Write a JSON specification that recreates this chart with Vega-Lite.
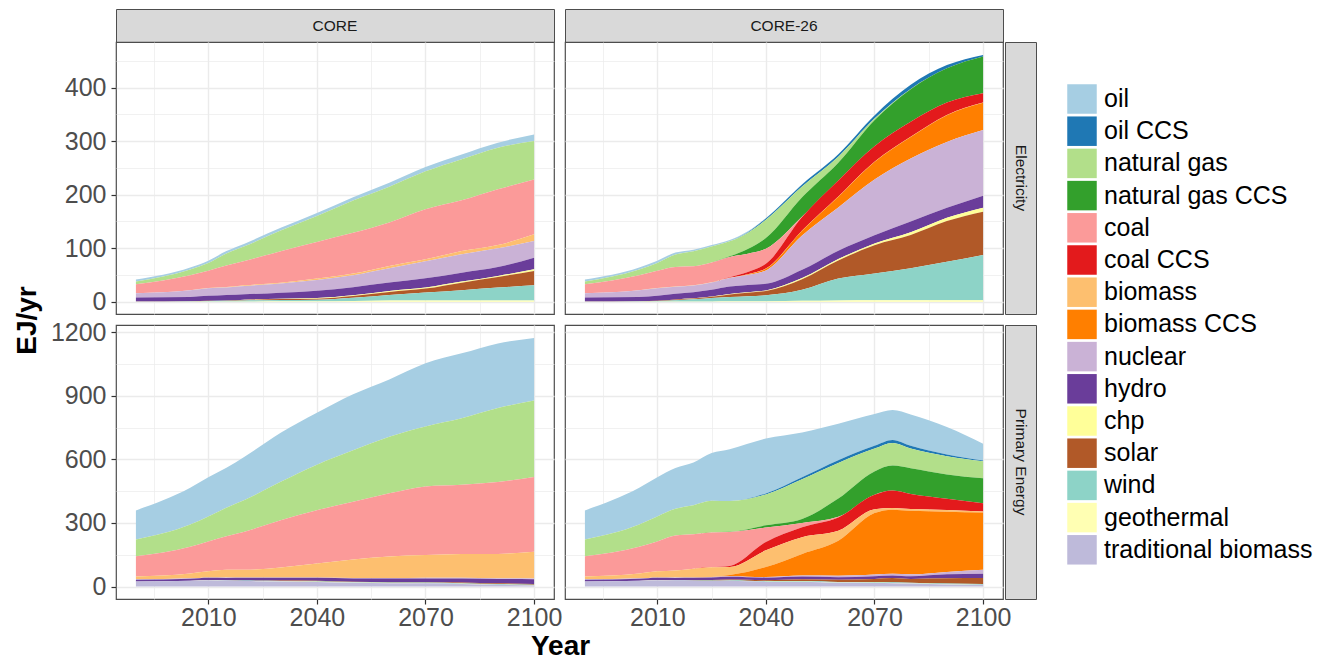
{
  "$schema": "https://vega.github.io/schema/vega-lite/v6.json",
  "padding": {"left": 12, "top": 8, "right": 0, "bottom": 0},
  "config": {
    "font": "Liberation Sans",
    "background": "white",
    "view": {"stroke": "#4d4d4d", "strokeWidth": 1.2},
    "axis": {
      "domain": false, "gridColor": "#ebebeb", "tickColor": "#333333", "tickSize": 5, "tickWidth": 1.2,
      "labelFontSize": 25, "labelColor": "#4d4d4d", "labelOverlap": false, "labelFlush": false,
      "titleFontSize": 28, "titleFontWeight": "bold", "titleColor": "#000000"
    },
    "concat": {"spacing": 0}
  },
  "datasets": {
    "core_elec": [
      {"fuel":"oil","year":1990,"EJ":3.7},{"fuel":"oil","year":2005,"EJ":3.7},{"fuel":"oil","year":2010,"EJ":4.4},{"fuel":"oil","year":2015,"EJ":4.4},{"fuel":"oil","year":2020,"EJ":5},{"fuel":"oil","year":2030,"EJ":5},{"fuel":"oil","year":2040,"EJ":5.6},{"fuel":"oil","year":2050,"EJ":6.2},{"fuel":"oil","year":2060,"EJ":7.5},{"fuel":"oil","year":2070,"EJ":8.1},{"fuel":"oil","year":2080,"EJ":8.7},{"fuel":"oil","year":2090,"EJ":9.3},{"fuel":"oil","year":2100,"EJ":12.4},
      {"fuel":"natural gas","year":1990,"EJ":5},{"fuel":"natural gas","year":2005,"EJ":10.6},{"fuel":"natural gas","year":2010,"EJ":14.3},{"fuel":"natural gas","year":2015,"EJ":22.4},{"fuel":"natural gas","year":2020,"EJ":27.4},{"fuel":"natural gas","year":2030,"EJ":38.6},{"fuel":"natural gas","year":2040,"EJ":48.5},{"fuel":"natural gas","year":2050,"EJ":60.4},{"fuel":"natural gas","year":2060,"EJ":67},{"fuel":"natural gas","year":2070,"EJ":71},{"fuel":"natural gas","year":2080,"EJ":77},{"fuel":"natural gas","year":2090,"EJ":77.8},{"fuel":"natural gas","year":2100,"EJ":71.6},
      {"fuel":"coal","year":1990,"EJ":16.8},{"fuel":"coal","year":2005,"EJ":28},{"fuel":"coal","year":2010,"EJ":32.4},{"fuel":"coal","year":2015,"EJ":40.4},{"fuel":"coal","year":2020,"EJ":45.4},{"fuel":"coal","year":2030,"EJ":59},{"fuel":"coal","year":2040,"EJ":68.5},{"fuel":"coal","year":2050,"EJ":76},{"fuel":"coal","year":2060,"EJ":81},{"fuel":"coal","year":2070,"EJ":93.3},{"fuel":"coal","year":2080,"EJ":94.6},{"fuel":"coal","year":2090,"EJ":104},{"fuel":"coal","year":2100,"EJ":102.7},
      {"fuel":"biomass","year":1990,"EJ":0},{"fuel":"biomass","year":2005,"EJ":0.3},{"fuel":"biomass","year":2010,"EJ":0.4},{"fuel":"biomass","year":2015,"EJ":0.6},{"fuel":"biomass","year":2020,"EJ":1.2},{"fuel":"biomass","year":2030,"EJ":1.2},{"fuel":"biomass","year":2040,"EJ":2.5},{"fuel":"biomass","year":2050,"EJ":3.1},{"fuel":"biomass","year":2060,"EJ":4.4},{"fuel":"biomass","year":2070,"EJ":3.7},{"fuel":"biomass","year":2080,"EJ":6.2},{"fuel":"biomass","year":2090,"EJ":6.2},{"fuel":"biomass","year":2100,"EJ":12.4},
      {"fuel":"nuclear","year":1990,"EJ":8},{"fuel":"nuclear","year":2005,"EJ":12.4},{"fuel":"nuclear","year":2010,"EJ":14.3},{"fuel":"nuclear","year":2015,"EJ":14.3},{"fuel":"nuclear","year":2020,"EJ":15.6},{"fuel":"nuclear","year":2030,"EJ":17.4},{"fuel":"nuclear","year":2040,"EJ":20},{"fuel":"nuclear","year":2050,"EJ":22.4},{"fuel":"nuclear","year":2060,"EJ":26.8},{"fuel":"nuclear","year":2070,"EJ":31.7},{"fuel":"nuclear","year":2080,"EJ":34.2},{"fuel":"nuclear","year":2090,"EJ":34.8},{"fuel":"nuclear","year":2100,"EJ":31.1},
      {"fuel":"hydro","year":1990,"EJ":7.5},{"fuel":"hydro","year":2005,"EJ":8},{"fuel":"hydro","year":2010,"EJ":9.3},{"fuel":"hydro","year":2015,"EJ":10},{"fuel":"hydro","year":2020,"EJ":10},{"fuel":"hydro","year":2030,"EJ":11.2},{"fuel":"hydro","year":2040,"EJ":13.7},{"fuel":"hydro","year":2050,"EJ":15},{"fuel":"hydro","year":2060,"EJ":15.6},{"fuel":"hydro","year":2070,"EJ":17.4},{"fuel":"hydro","year":2080,"EJ":16.8},{"fuel":"hydro","year":2090,"EJ":16.8},{"fuel":"hydro","year":2100,"EJ":21.8},
      {"fuel":"chp","year":1990,"EJ":0},{"fuel":"chp","year":2005,"EJ":0},{"fuel":"chp","year":2010,"EJ":0},{"fuel":"chp","year":2015,"EJ":0.2},{"fuel":"chp","year":2020,"EJ":0.5},{"fuel":"chp","year":2030,"EJ":0.6},{"fuel":"chp","year":2040,"EJ":1.2},{"fuel":"chp","year":2050,"EJ":1.5},{"fuel":"chp","year":2060,"EJ":1.9},{"fuel":"chp","year":2070,"EJ":1.9},{"fuel":"chp","year":2080,"EJ":1.9},{"fuel":"chp","year":2090,"EJ":1.9},{"fuel":"chp","year":2100,"EJ":3.1},
      {"fuel":"solar","year":1990,"EJ":0},{"fuel":"solar","year":2005,"EJ":0.1},{"fuel":"solar","year":2010,"EJ":0.3},{"fuel":"solar","year":2015,"EJ":0.6},{"fuel":"solar","year":2020,"EJ":1},{"fuel":"solar","year":2030,"EJ":1.9},{"fuel":"solar","year":2040,"EJ":1.9},{"fuel":"solar","year":2050,"EJ":3.1},{"fuel":"solar","year":2060,"EJ":5.6},{"fuel":"solar","year":2070,"EJ":7.5},{"fuel":"solar","year":2080,"EJ":14.3},{"fuel":"solar","year":2090,"EJ":19.9},{"fuel":"solar","year":2100,"EJ":26.8},
      {"fuel":"wind","year":1990,"EJ":0},{"fuel":"wind","year":2005,"EJ":0.4},{"fuel":"wind","year":2010,"EJ":0.9},{"fuel":"wind","year":2015,"EJ":1.2},{"fuel":"wind","year":2020,"EJ":1.9},{"fuel":"wind","year":2030,"EJ":2.5},{"fuel":"wind","year":2040,"EJ":3.1},{"fuel":"wind","year":2050,"EJ":6.2},{"fuel":"wind","year":2060,"EJ":10.6},{"fuel":"wind","year":2070,"EJ":15},{"fuel":"wind","year":2080,"EJ":19.3},{"fuel":"wind","year":2090,"EJ":24.3},{"fuel":"wind","year":2100,"EJ":28.6},
      {"fuel":"geothermal","year":1990,"EJ":0.3},{"fuel":"geothermal","year":2005,"EJ":0.3},{"fuel":"geothermal","year":2010,"EJ":0.3},{"fuel":"geothermal","year":2015,"EJ":0.3},{"fuel":"geothermal","year":2020,"EJ":0.3},{"fuel":"geothermal","year":2030,"EJ":0.5},{"fuel":"geothermal","year":2040,"EJ":0.6},{"fuel":"geothermal","year":2050,"EJ":1.2},{"fuel":"geothermal","year":2060,"EJ":1.9},{"fuel":"geothermal","year":2070,"EJ":1.9},{"fuel":"geothermal","year":2080,"EJ":1.9},{"fuel":"geothermal","year":2090,"EJ":1.9},{"fuel":"geothermal","year":2100,"EJ":1.9}
    ],
    "core26_elec": [
      {"fuel":"oil","year":1990,"EJ":3.7},{"fuel":"oil","year":2005,"EJ":3.7},{"fuel":"oil","year":2010,"EJ":4.4},{"fuel":"oil","year":2015,"EJ":3.7},{"fuel":"oil","year":2020,"EJ":3},{"fuel":"oil","year":2025,"EJ":2.5},{"fuel":"oil","year":2030,"EJ":2.5},{"fuel":"oil","year":2035,"EJ":2},{"fuel":"oil","year":2040,"EJ":1},{"fuel":"oil","year":2050,"EJ":0.5},{"fuel":"oil","year":2060,"EJ":0},{"fuel":"oil","year":2070,"EJ":0},{"fuel":"oil","year":2080,"EJ":0},{"fuel":"oil","year":2090,"EJ":0},{"fuel":"oil","year":2100,"EJ":0},
      {"fuel":"oil CCS","year":1990,"EJ":0},{"fuel":"oil CCS","year":2005,"EJ":0},{"fuel":"oil CCS","year":2010,"EJ":0},{"fuel":"oil CCS","year":2015,"EJ":0},{"fuel":"oil CCS","year":2020,"EJ":0},{"fuel":"oil CCS","year":2025,"EJ":0},{"fuel":"oil CCS","year":2030,"EJ":0},{"fuel":"oil CCS","year":2035,"EJ":1},{"fuel":"oil CCS","year":2040,"EJ":2.5},{"fuel":"oil CCS","year":2050,"EJ":4},{"fuel":"oil CCS","year":2060,"EJ":5},{"fuel":"oil CCS","year":2070,"EJ":6},{"fuel":"oil CCS","year":2080,"EJ":7.5},{"fuel":"oil CCS","year":2090,"EJ":6},{"fuel":"oil CCS","year":2100,"EJ":3},
      {"fuel":"natural gas","year":1990,"EJ":5},{"fuel":"natural gas","year":2005,"EJ":10.6},{"fuel":"natural gas","year":2010,"EJ":14.3},{"fuel":"natural gas","year":2015,"EJ":23},{"fuel":"natural gas","year":2020,"EJ":28},{"fuel":"natural gas","year":2025,"EJ":30},{"fuel":"natural gas","year":2030,"EJ":28},{"fuel":"natural gas","year":2035,"EJ":30},{"fuel":"natural gas","year":2040,"EJ":34},{"fuel":"natural gas","year":2050,"EJ":20},{"fuel":"natural gas","year":2060,"EJ":11},{"fuel":"natural gas","year":2070,"EJ":3},{"fuel":"natural gas","year":2080,"EJ":0.5},{"fuel":"natural gas","year":2090,"EJ":0},{"fuel":"natural gas","year":2100,"EJ":0},
      {"fuel":"natural gas CCS","year":1990,"EJ":0},{"fuel":"natural gas CCS","year":2005,"EJ":0},{"fuel":"natural gas CCS","year":2010,"EJ":0},{"fuel":"natural gas CCS","year":2015,"EJ":0},{"fuel":"natural gas CCS","year":2020,"EJ":0},{"fuel":"natural gas CCS","year":2025,"EJ":0},{"fuel":"natural gas CCS","year":2030,"EJ":1},{"fuel":"natural gas CCS","year":2035,"EJ":9},{"fuel":"natural gas CCS","year":2040,"EJ":20},{"fuel":"natural gas CCS","year":2050,"EJ":36},{"fuel":"natural gas CCS","year":2060,"EJ":33},{"fuel":"natural gas CCS","year":2070,"EJ":48.5},{"fuel":"natural gas CCS","year":2080,"EJ":61},{"fuel":"natural gas CCS","year":2090,"EJ":64},{"fuel":"natural gas CCS","year":2100,"EJ":68.5},
      {"fuel":"coal","year":1990,"EJ":16.8},{"fuel":"coal","year":2005,"EJ":28},{"fuel":"coal","year":2010,"EJ":32.4},{"fuel":"coal","year":2015,"EJ":36.7},{"fuel":"coal","year":2020,"EJ":35.5},{"fuel":"coal","year":2025,"EJ":37},{"fuel":"coal","year":2030,"EJ":38},{"fuel":"coal","year":2035,"EJ":34},{"fuel":"coal","year":2040,"EJ":28},{"fuel":"coal","year":2050,"EJ":1},{"fuel":"coal","year":2060,"EJ":0},{"fuel":"coal","year":2070,"EJ":0},{"fuel":"coal","year":2080,"EJ":0},{"fuel":"coal","year":2090,"EJ":0},{"fuel":"coal","year":2100,"EJ":0},
      {"fuel":"coal CCS","year":1990,"EJ":0},{"fuel":"coal CCS","year":2005,"EJ":0},{"fuel":"coal CCS","year":2010,"EJ":0},{"fuel":"coal CCS","year":2015,"EJ":0},{"fuel":"coal CCS","year":2020,"EJ":0},{"fuel":"coal CCS","year":2025,"EJ":0},{"fuel":"coal CCS","year":2030,"EJ":1},{"fuel":"coal CCS","year":2035,"EJ":4},{"fuel":"coal CCS","year":2040,"EJ":9},{"fuel":"coal CCS","year":2050,"EJ":25},{"fuel":"coal CCS","year":2060,"EJ":30},{"fuel":"coal CCS","year":2070,"EJ":29},{"fuel":"coal CCS","year":2080,"EJ":28},{"fuel":"coal CCS","year":2090,"EJ":23},{"fuel":"coal CCS","year":2100,"EJ":17.4},
      {"fuel":"biomass","year":1990,"EJ":0},{"fuel":"biomass","year":2005,"EJ":0.3},{"fuel":"biomass","year":2010,"EJ":0.4},{"fuel":"biomass","year":2015,"EJ":0.5},{"fuel":"biomass","year":2020,"EJ":0.5},{"fuel":"biomass","year":2025,"EJ":0.5},{"fuel":"biomass","year":2030,"EJ":0.5},{"fuel":"biomass","year":2035,"EJ":0.5},{"fuel":"biomass","year":2040,"EJ":0.5},{"fuel":"biomass","year":2050,"EJ":0.5},{"fuel":"biomass","year":2060,"EJ":0.5},{"fuel":"biomass","year":2070,"EJ":0.5},{"fuel":"biomass","year":2080,"EJ":0.5},{"fuel":"biomass","year":2090,"EJ":0.5},{"fuel":"biomass","year":2100,"EJ":0.5},
      {"fuel":"biomass CCS","year":1990,"EJ":0},{"fuel":"biomass CCS","year":2005,"EJ":0},{"fuel":"biomass CCS","year":2010,"EJ":0},{"fuel":"biomass CCS","year":2015,"EJ":0},{"fuel":"biomass CCS","year":2020,"EJ":0},{"fuel":"biomass CCS","year":2025,"EJ":0},{"fuel":"biomass CCS","year":2030,"EJ":0},{"fuel":"biomass CCS","year":2035,"EJ":1},{"fuel":"biomass CCS","year":2040,"EJ":3},{"fuel":"biomass CCS","year":2050,"EJ":9},{"fuel":"biomass CCS","year":2060,"EJ":20},{"fuel":"biomass CCS","year":2070,"EJ":33},{"fuel":"biomass CCS","year":2080,"EJ":40},{"fuel":"biomass CCS","year":2090,"EJ":50},{"fuel":"biomass CCS","year":2100,"EJ":51},
      {"fuel":"nuclear","year":1990,"EJ":8},{"fuel":"nuclear","year":2005,"EJ":12.4},{"fuel":"nuclear","year":2010,"EJ":14.3},{"fuel":"nuclear","year":2015,"EJ":13},{"fuel":"nuclear","year":2020,"EJ":12.5},{"fuel":"nuclear","year":2025,"EJ":13.5},{"fuel":"nuclear","year":2030,"EJ":16},{"fuel":"nuclear","year":2035,"EJ":19},{"fuel":"nuclear","year":2040,"EJ":25},{"fuel":"nuclear","year":2050,"EJ":64},{"fuel":"nuclear","year":2060,"EJ":81},{"fuel":"nuclear","year":2070,"EJ":104},{"fuel":"nuclear","year":2080,"EJ":118},{"fuel":"nuclear","year":2090,"EJ":123},{"fuel":"nuclear","year":2100,"EJ":122.6},
      {"fuel":"hydro","year":1990,"EJ":7.5},{"fuel":"hydro","year":2005,"EJ":8},{"fuel":"hydro","year":2010,"EJ":9.3},{"fuel":"hydro","year":2015,"EJ":10.5},{"fuel":"hydro","year":2020,"EJ":11.5},{"fuel":"hydro","year":2025,"EJ":12.5},{"fuel":"hydro","year":2030,"EJ":14},{"fuel":"hydro","year":2035,"EJ":13.5},{"fuel":"hydro","year":2040,"EJ":12.5},{"fuel":"hydro","year":2050,"EJ":15.5},{"fuel":"hydro","year":2060,"EJ":15.5},{"fuel":"hydro","year":2070,"EJ":15.5},{"fuel":"hydro","year":2080,"EJ":20},{"fuel":"hydro","year":2090,"EJ":18.7},{"fuel":"hydro","year":2100,"EJ":22.4},
      {"fuel":"chp","year":1990,"EJ":0},{"fuel":"chp","year":2005,"EJ":0},{"fuel":"chp","year":2010,"EJ":0},{"fuel":"chp","year":2015,"EJ":0.2},{"fuel":"chp","year":2020,"EJ":0.3},{"fuel":"chp","year":2025,"EJ":0.5},{"fuel":"chp","year":2030,"EJ":0.6},{"fuel":"chp","year":2035,"EJ":0.8},{"fuel":"chp","year":2040,"EJ":1},{"fuel":"chp","year":2050,"EJ":2},{"fuel":"chp","year":2060,"EJ":2.5},{"fuel":"chp","year":2070,"EJ":3},{"fuel":"chp","year":2080,"EJ":5},{"fuel":"chp","year":2090,"EJ":6.2},{"fuel":"chp","year":2100,"EJ":7.5},
      {"fuel":"solar","year":1990,"EJ":0},{"fuel":"solar","year":2005,"EJ":0.1},{"fuel":"solar","year":2010,"EJ":0.3},{"fuel":"solar","year":2015,"EJ":1.2},{"fuel":"solar","year":2020,"EJ":1.5},{"fuel":"solar","year":2025,"EJ":2.5},{"fuel":"solar","year":2030,"EJ":5},{"fuel":"solar","year":2035,"EJ":6.5},{"fuel":"solar","year":2040,"EJ":8},{"fuel":"solar","year":2050,"EJ":20},{"fuel":"solar","year":2060,"EJ":34},{"fuel":"solar","year":2070,"EJ":53},{"fuel":"solar","year":2080,"EJ":62},{"fuel":"solar","year":2090,"EJ":76},{"fuel":"solar","year":2100,"EJ":81},
      {"fuel":"wind","year":1990,"EJ":0},{"fuel":"wind","year":2005,"EJ":0.4},{"fuel":"wind","year":2010,"EJ":0.9},{"fuel":"wind","year":2015,"EJ":2.5},{"fuel":"wind","year":2020,"EJ":4},{"fuel":"wind","year":2025,"EJ":6.2},{"fuel":"wind","year":2030,"EJ":8},{"fuel":"wind","year":2035,"EJ":9.5},{"fuel":"wind","year":2040,"EJ":11},{"fuel":"wind","year":2050,"EJ":20.5},{"fuel":"wind","year":2060,"EJ":41},{"fuel":"wind","year":2070,"EJ":50},{"fuel":"wind","year":2080,"EJ":60},{"fuel":"wind","year":2090,"EJ":72},{"fuel":"wind","year":2100,"EJ":84.6},
      {"fuel":"geothermal","year":1990,"EJ":0.3},{"fuel":"geothermal","year":2005,"EJ":0.3},{"fuel":"geothermal","year":2010,"EJ":0.3},{"fuel":"geothermal","year":2015,"EJ":0.3},{"fuel":"geothermal","year":2020,"EJ":0.3},{"fuel":"geothermal","year":2025,"EJ":0.4},{"fuel":"geothermal","year":2030,"EJ":0.5},{"fuel":"geothermal","year":2035,"EJ":0.6},{"fuel":"geothermal","year":2040,"EJ":0.8},{"fuel":"geothermal","year":2050,"EJ":1.5},{"fuel":"geothermal","year":2060,"EJ":2},{"fuel":"geothermal","year":2070,"EJ":2.5},{"fuel":"geothermal","year":2080,"EJ":2.5},{"fuel":"geothermal","year":2090,"EJ":2.5},{"fuel":"geothermal","year":2100,"EJ":2.5}
    ],
    "core_pe": [
      {"fuel":"oil","year":1990,"EJ":137},{"fuel":"oil","year":2005,"EJ":173},{"fuel":"oil","year":2010,"EJ":184},{"fuel":"oil","year":2015,"EJ":188},{"fuel":"oil","year":2020,"EJ":204},{"fuel":"oil","year":2030,"EJ":231},{"fuel":"oil","year":2040,"EJ":245},{"fuel":"oil","year":2050,"EJ":264},{"fuel":"oil","year":2060,"EJ":270},{"fuel":"oil","year":2070,"EJ":298},{"fuel":"oil","year":2080,"EJ":306},{"fuel":"oil","year":2090,"EJ":305},{"fuel":"oil","year":2100,"EJ":295},
      {"fuel":"natural gas","year":1990,"EJ":79},{"fuel":"natural gas","year":2005,"EJ":105},{"fuel":"natural gas","year":2010,"EJ":118},{"fuel":"natural gas","year":2015,"EJ":134},{"fuel":"natural gas","year":2020,"EJ":149},{"fuel":"natural gas","year":2030,"EJ":181},{"fuel":"natural gas","year":2040,"EJ":215},{"fuel":"natural gas","year":2050,"EJ":243},{"fuel":"natural gas","year":2060,"EJ":267},{"fuel":"natural gas","year":2070,"EJ":283},{"fuel":"natural gas","year":2080,"EJ":314},{"fuel":"natural gas","year":2090,"EJ":349},{"fuel":"natural gas","year":2100,"EJ":361},
      {"fuel":"coal","year":1990,"EJ":96},{"fuel":"coal","year":2005,"EJ":126},{"fuel":"coal","year":2010,"EJ":141},{"fuel":"coal","year":2015,"EJ":159},{"fuel":"coal","year":2020,"EJ":180},{"fuel":"coal","year":2030,"EJ":223},{"fuel":"coal","year":2040,"EJ":251},{"fuel":"coal","year":2050,"EJ":272},{"fuel":"coal","year":2060,"EJ":298},{"fuel":"coal","year":2070,"EJ":324},{"fuel":"coal","year":2080,"EJ":327},{"fuel":"coal","year":2090,"EJ":339},{"fuel":"coal","year":2100,"EJ":353},
      {"fuel":"biomass","year":1990,"EJ":13},{"fuel":"biomass","year":2005,"EJ":23},{"fuel":"biomass","year":2010,"EJ":29},{"fuel":"biomass","year":2015,"EJ":36},{"fuel":"biomass","year":2020,"EJ":36},{"fuel":"biomass","year":2030,"EJ":47},{"fuel":"biomass","year":2040,"EJ":66},{"fuel":"biomass","year":2050,"EJ":88},{"fuel":"biomass","year":2060,"EJ":102},{"fuel":"biomass","year":2070,"EJ":107},{"fuel":"biomass","year":2080,"EJ":112},{"fuel":"biomass","year":2090,"EJ":115},{"fuel":"biomass","year":2100,"EJ":126},
      {"fuel":"nuclear","year":1990,"EJ":2},{"fuel":"nuclear","year":2005,"EJ":2},{"fuel":"nuclear","year":2010,"EJ":2},{"fuel":"nuclear","year":2015,"EJ":2},{"fuel":"nuclear","year":2020,"EJ":2},{"fuel":"nuclear","year":2030,"EJ":2},{"fuel":"nuclear","year":2040,"EJ":2},{"fuel":"nuclear","year":2050,"EJ":2},{"fuel":"nuclear","year":2060,"EJ":2},{"fuel":"nuclear","year":2070,"EJ":3},{"fuel":"nuclear","year":2080,"EJ":3},{"fuel":"nuclear","year":2090,"EJ":3},{"fuel":"nuclear","year":2100,"EJ":3},
      {"fuel":"hydro","year":1990,"EJ":8},{"fuel":"hydro","year":2005,"EJ":9},{"fuel":"hydro","year":2010,"EJ":10},{"fuel":"hydro","year":2015,"EJ":11},{"fuel":"hydro","year":2020,"EJ":12},{"fuel":"hydro","year":2030,"EJ":13},{"fuel":"hydro","year":2040,"EJ":14},{"fuel":"hydro","year":2050,"EJ":15},{"fuel":"hydro","year":2060,"EJ":16},{"fuel":"hydro","year":2070,"EJ":17},{"fuel":"hydro","year":2080,"EJ":19},{"fuel":"hydro","year":2090,"EJ":21},{"fuel":"hydro","year":2100,"EJ":23},
      {"fuel":"solar","year":1990,"EJ":0},{"fuel":"solar","year":2005,"EJ":0.1},{"fuel":"solar","year":2010,"EJ":0.2},{"fuel":"solar","year":2015,"EJ":0.5},{"fuel":"solar","year":2020,"EJ":1},{"fuel":"solar","year":2030,"EJ":1.5},{"fuel":"solar","year":2040,"EJ":2},{"fuel":"solar","year":2050,"EJ":2},{"fuel":"solar","year":2060,"EJ":2.5},{"fuel":"solar","year":2070,"EJ":2.5},{"fuel":"solar","year":2080,"EJ":3},{"fuel":"solar","year":2090,"EJ":3},{"fuel":"solar","year":2100,"EJ":3},
      {"fuel":"wind","year":1990,"EJ":0},{"fuel":"wind","year":2005,"EJ":0.3},{"fuel":"wind","year":2010,"EJ":0.5},{"fuel":"wind","year":2015,"EJ":1},{"fuel":"wind","year":2020,"EJ":1.5},{"fuel":"wind","year":2030,"EJ":2},{"fuel":"wind","year":2040,"EJ":2.5},{"fuel":"wind","year":2050,"EJ":2.5},{"fuel":"wind","year":2060,"EJ":3},{"fuel":"wind","year":2070,"EJ":3},{"fuel":"wind","year":2080,"EJ":3},{"fuel":"wind","year":2090,"EJ":3},{"fuel":"wind","year":2100,"EJ":3},
      {"fuel":"geothermal","year":1990,"EJ":0.3},{"fuel":"geothermal","year":2005,"EJ":0.3},{"fuel":"geothermal","year":2010,"EJ":0.3},{"fuel":"geothermal","year":2015,"EJ":0.3},{"fuel":"geothermal","year":2020,"EJ":0.5},{"fuel":"geothermal","year":2030,"EJ":0.5},{"fuel":"geothermal","year":2040,"EJ":0.5},{"fuel":"geothermal","year":2050,"EJ":0.5},{"fuel":"geothermal","year":2060,"EJ":0.5},{"fuel":"geothermal","year":2070,"EJ":1},{"fuel":"geothermal","year":2080,"EJ":1},{"fuel":"geothermal","year":2090,"EJ":1},{"fuel":"geothermal","year":2100,"EJ":1},
      {"fuel":"traditional biomass","year":1990,"EJ":24},{"fuel":"traditional biomass","year":2005,"EJ":27},{"fuel":"traditional biomass","year":2010,"EJ":30},{"fuel":"traditional biomass","year":2015,"EJ":28},{"fuel":"traditional biomass","year":2020,"EJ":26},{"fuel":"traditional biomass","year":2030,"EJ":24},{"fuel":"traditional biomass","year":2040,"EJ":22},{"fuel":"traditional biomass","year":2050,"EJ":18},{"fuel":"traditional biomass","year":2060,"EJ":16},{"fuel":"traditional biomass","year":2070,"EJ":15},{"fuel":"traditional biomass","year":2080,"EJ":12},{"fuel":"traditional biomass","year":2090,"EJ":8},{"fuel":"traditional biomass","year":2100,"EJ":5}
    ],
    "core26_pe": [
      {"fuel":"oil","year":1990,"EJ":137},{"fuel":"oil","year":2005,"EJ":173},{"fuel":"oil","year":2010,"EJ":184},{"fuel":"oil","year":2015,"EJ":192},{"fuel":"oil","year":2020,"EJ":201},{"fuel":"oil","year":2025,"EJ":225},{"fuel":"oil","year":2030,"EJ":245},{"fuel":"oil","year":2040,"EJ":259},{"fuel":"oil","year":2050,"EJ":212},{"fuel":"oil","year":2060,"EJ":173},{"fuel":"oil","year":2070,"EJ":150},{"fuel":"oil","year":2075,"EJ":141},{"fuel":"oil","year":2080,"EJ":148},{"fuel":"oil","year":2090,"EJ":130},{"fuel":"oil","year":2100,"EJ":80},
      {"fuel":"oil CCS","year":1990,"EJ":0},{"fuel":"oil CCS","year":2005,"EJ":0},{"fuel":"oil CCS","year":2010,"EJ":0},{"fuel":"oil CCS","year":2015,"EJ":0},{"fuel":"oil CCS","year":2020,"EJ":0},{"fuel":"oil CCS","year":2025,"EJ":0},{"fuel":"oil CCS","year":2030,"EJ":0},{"fuel":"oil CCS","year":2040,"EJ":5},{"fuel":"oil CCS","year":2050,"EJ":9},{"fuel":"oil CCS","year":2060,"EJ":12.5},{"fuel":"oil CCS","year":2070,"EJ":13},{"fuel":"oil CCS","year":2075,"EJ":14},{"fuel":"oil CCS","year":2080,"EJ":12.5},{"fuel":"oil CCS","year":2090,"EJ":8},{"fuel":"oil CCS","year":2100,"EJ":3},
      {"fuel":"natural gas","year":1990,"EJ":79},{"fuel":"natural gas","year":2005,"EJ":105},{"fuel":"natural gas","year":2010,"EJ":118},{"fuel":"natural gas","year":2015,"EJ":126},{"fuel":"natural gas","year":2020,"EJ":137},{"fuel":"natural gas","year":2025,"EJ":149},{"fuel":"natural gas","year":2030,"EJ":145},{"fuel":"natural gas","year":2040,"EJ":145},{"fuel":"natural gas","year":2050,"EJ":187},{"fuel":"natural gas","year":2060,"EJ":168},{"fuel":"natural gas","year":2070,"EJ":108},{"fuel":"natural gas","year":2075,"EJ":107},{"fuel":"natural gas","year":2080,"EJ":93},{"fuel":"natural gas","year":2090,"EJ":86},{"fuel":"natural gas","year":2100,"EJ":80},
      {"fuel":"natural gas CCS","year":1990,"EJ":0},{"fuel":"natural gas CCS","year":2005,"EJ":0},{"fuel":"natural gas CCS","year":2010,"EJ":0},{"fuel":"natural gas CCS","year":2015,"EJ":0},{"fuel":"natural gas CCS","year":2020,"EJ":0},{"fuel":"natural gas CCS","year":2025,"EJ":0},{"fuel":"natural gas CCS","year":2030,"EJ":1},{"fuel":"natural gas CCS","year":2040,"EJ":11},{"fuel":"natural gas CCS","year":2050,"EJ":19},{"fuel":"natural gas CCS","year":2060,"EJ":86},{"fuel":"natural gas CCS","year":2070,"EJ":110},{"fuel":"natural gas CCS","year":2075,"EJ":118},{"fuel":"natural gas CCS","year":2080,"EJ":122},{"fuel":"natural gas CCS","year":2090,"EJ":115},{"fuel":"natural gas CCS","year":2100,"EJ":118},
      {"fuel":"coal","year":1990,"EJ":96},{"fuel":"coal","year":2005,"EJ":126},{"fuel":"coal","year":2010,"EJ":141},{"fuel":"coal","year":2015,"EJ":165},{"fuel":"coal","year":2020,"EJ":163},{"fuel":"coal","year":2025,"EJ":165},{"fuel":"coal","year":2030,"EJ":160},{"fuel":"coal","year":2040,"EJ":68},{"fuel":"coal","year":2050,"EJ":20},{"fuel":"coal","year":2060,"EJ":3},{"fuel":"coal","year":2070,"EJ":0.5},{"fuel":"coal","year":2075,"EJ":0},{"fuel":"coal","year":2080,"EJ":0},{"fuel":"coal","year":2090,"EJ":0},{"fuel":"coal","year":2100,"EJ":0},
      {"fuel":"coal CCS","year":1990,"EJ":0},{"fuel":"coal CCS","year":2005,"EJ":0},{"fuel":"coal CCS","year":2010,"EJ":0},{"fuel":"coal CCS","year":2015,"EJ":0},{"fuel":"coal CCS","year":2020,"EJ":0},{"fuel":"coal CCS","year":2025,"EJ":0},{"fuel":"coal CCS","year":2030,"EJ":5},{"fuel":"coal CCS","year":2040,"EJ":39},{"fuel":"coal CCS","year":2050,"EJ":47},{"fuel":"coal CCS","year":2060,"EJ":63},{"fuel":"coal CCS","year":2070,"EJ":68},{"fuel":"coal CCS","year":2075,"EJ":82},{"fuel":"coal CCS","year":2080,"EJ":71},{"fuel":"coal CCS","year":2090,"EJ":53},{"fuel":"coal CCS","year":2100,"EJ":39},
      {"fuel":"biomass","year":1990,"EJ":13},{"fuel":"biomass","year":2005,"EJ":23},{"fuel":"biomass","year":2010,"EJ":29},{"fuel":"biomass","year":2015,"EJ":33},{"fuel":"biomass","year":2020,"EJ":41},{"fuel":"biomass","year":2025,"EJ":45},{"fuel":"biomass","year":2030,"EJ":38},{"fuel":"biomass","year":2040,"EJ":79},{"fuel":"biomass","year":2050,"EJ":79},{"fuel":"biomass","year":2060,"EJ":47},{"fuel":"biomass","year":2070,"EJ":18},{"fuel":"biomass","year":2075,"EJ":8},{"fuel":"biomass","year":2080,"EJ":8},{"fuel":"biomass","year":2090,"EJ":8},{"fuel":"biomass","year":2100,"EJ":5},
      {"fuel":"biomass CCS","year":1990,"EJ":0},{"fuel":"biomass CCS","year":2005,"EJ":0},{"fuel":"biomass CCS","year":2010,"EJ":0},{"fuel":"biomass CCS","year":2015,"EJ":0},{"fuel":"biomass CCS","year":2020,"EJ":0},{"fuel":"biomass CCS","year":2025,"EJ":0},{"fuel":"biomass CCS","year":2030,"EJ":5},{"fuel":"biomass CCS","year":2040,"EJ":47},{"fuel":"biomass CCS","year":2050,"EJ":102},{"fuel":"biomass CCS","year":2060,"EJ":165},{"fuel":"biomass CCS","year":2070,"EJ":290},{"fuel":"biomass CCS","year":2075,"EJ":302},{"fuel":"biomass CCS","year":2080,"EJ":300},{"fuel":"biomass CCS","year":2090,"EJ":284},{"fuel":"biomass CCS","year":2100,"EJ":270},
      {"fuel":"nuclear","year":1990,"EJ":2},{"fuel":"nuclear","year":2005,"EJ":2},{"fuel":"nuclear","year":2010,"EJ":2},{"fuel":"nuclear","year":2015,"EJ":2},{"fuel":"nuclear","year":2020,"EJ":2},{"fuel":"nuclear","year":2025,"EJ":3},{"fuel":"nuclear","year":2030,"EJ":3},{"fuel":"nuclear","year":2040,"EJ":3},{"fuel":"nuclear","year":2050,"EJ":5},{"fuel":"nuclear","year":2060,"EJ":7},{"fuel":"nuclear","year":2070,"EJ":8},{"fuel":"nuclear","year":2075,"EJ":8},{"fuel":"nuclear","year":2080,"EJ":9},{"fuel":"nuclear","year":2090,"EJ":11},{"fuel":"nuclear","year":2100,"EJ":19},
      {"fuel":"hydro","year":1990,"EJ":8},{"fuel":"hydro","year":2005,"EJ":9},{"fuel":"hydro","year":2010,"EJ":10},{"fuel":"hydro","year":2015,"EJ":11},{"fuel":"hydro","year":2020,"EJ":11},{"fuel":"hydro","year":2025,"EJ":12},{"fuel":"hydro","year":2030,"EJ":13},{"fuel":"hydro","year":2040,"EJ":12},{"fuel":"hydro","year":2050,"EJ":13},{"fuel":"hydro","year":2060,"EJ":12},{"fuel":"hydro","year":2070,"EJ":12.5},{"fuel":"hydro","year":2075,"EJ":12.5},{"fuel":"hydro","year":2080,"EJ":12.5},{"fuel":"hydro","year":2090,"EJ":19},{"fuel":"hydro","year":2100,"EJ":20},
      {"fuel":"solar","year":1990,"EJ":0},{"fuel":"solar","year":2005,"EJ":0.1},{"fuel":"solar","year":2010,"EJ":0.2},{"fuel":"solar","year":2015,"EJ":0.5},{"fuel":"solar","year":2020,"EJ":1},{"fuel":"solar","year":2025,"EJ":2},{"fuel":"solar","year":2030,"EJ":3},{"fuel":"solar","year":2040,"EJ":4},{"fuel":"solar","year":2050,"EJ":8},{"fuel":"solar","year":2060,"EJ":10},{"fuel":"solar","year":2070,"EJ":15},{"fuel":"solar","year":2075,"EJ":20},{"fuel":"solar","year":2080,"EJ":18},{"fuel":"solar","year":2090,"EJ":25},{"fuel":"solar","year":2100,"EJ":28},
      {"fuel":"wind","year":1990,"EJ":0},{"fuel":"wind","year":2005,"EJ":0.3},{"fuel":"wind","year":2010,"EJ":0.5},{"fuel":"wind","year":2015,"EJ":1},{"fuel":"wind","year":2020,"EJ":1.5},{"fuel":"wind","year":2025,"EJ":2},{"fuel":"wind","year":2030,"EJ":2.5},{"fuel":"wind","year":2040,"EJ":3},{"fuel":"wind","year":2050,"EJ":3},{"fuel":"wind","year":2060,"EJ":3},{"fuel":"wind","year":2070,"EJ":3},{"fuel":"wind","year":2075,"EJ":3},{"fuel":"wind","year":2080,"EJ":3},{"fuel":"wind","year":2090,"EJ":3},{"fuel":"wind","year":2100,"EJ":3},
      {"fuel":"geothermal","year":1990,"EJ":0.3},{"fuel":"geothermal","year":2005,"EJ":0.3},{"fuel":"geothermal","year":2010,"EJ":0.3},{"fuel":"geothermal","year":2015,"EJ":0.3},{"fuel":"geothermal","year":2020,"EJ":0.5},{"fuel":"geothermal","year":2025,"EJ":0.5},{"fuel":"geothermal","year":2030,"EJ":0.5},{"fuel":"geothermal","year":2040,"EJ":1},{"fuel":"geothermal","year":2050,"EJ":1},{"fuel":"geothermal","year":2060,"EJ":1},{"fuel":"geothermal","year":2070,"EJ":1},{"fuel":"geothermal","year":2075,"EJ":1},{"fuel":"geothermal","year":2080,"EJ":1},{"fuel":"geothermal","year":2090,"EJ":1},{"fuel":"geothermal","year":2100,"EJ":1},
      {"fuel":"traditional biomass","year":1990,"EJ":24},{"fuel":"traditional biomass","year":2005,"EJ":27},{"fuel":"traditional biomass","year":2010,"EJ":30},{"fuel":"traditional biomass","year":2015,"EJ":28},{"fuel":"traditional biomass","year":2020,"EJ":27},{"fuel":"traditional biomass","year":2025,"EJ":26},{"fuel":"traditional biomass","year":2030,"EJ":27},{"fuel":"traditional biomass","year":2040,"EJ":22},{"fuel":"traditional biomass","year":2050,"EJ":22},{"fuel":"traditional biomass","year":2060,"EJ":18},{"fuel":"traditional biomass","year":2070,"EJ":17},{"fuel":"traditional biomass","year":2075,"EJ":16},{"fuel":"traditional biomass","year":2080,"EJ":14},{"fuel":"traditional biomass","year":2090,"EJ":10},{"fuel":"traditional biomass","year":2100,"EJ":8}
    ]
  },
  "columns": 5,
  "align": "each",
  "bounds": "flush",
  "spacing": 0,
  "concat": [
    {"width": 438, "height": 33, "data": {"values": [{"label": "CORE"}]}, "mark": {"type": "text", "fontSize": 15.5, "color": "#1a1a1a"}, "encoding": {"text": {"field": "label"}}, "view": {"fill": "#d9d9d9", "stroke": "#4d4d4d"}},
    {"width": 11, "height": 33, "data": {"values": []}, "mark": {"type": "text"}, "encoding": {"text": {"value": ""}}, "view": {"stroke": null}},
    {"width": 438, "height": 33, "data": {"values": [{"label": "CORE-26"}]}, "mark": {"type": "text", "fontSize": 15.5, "color": "#1a1a1a"}, "encoding": {"text": {"field": "label"}}, "view": {"fill": "#d9d9d9", "stroke": "#4d4d4d"}},
    {"width": 2, "height": 33, "data": {"values": []}, "mark": {"type": "text"}, "encoding": {"text": {"value": ""}}, "view": {"stroke": null}},
    {"width": 31, "height": 33, "data": {"values": []}, "mark": {"type": "text"}, "encoding": {"text": {"value": ""}}, "view": {"stroke": null}},

    {
      "width": 438, "height": 272,
      "data": {"name": "core_elec"},
      "transform": [{"calculate": "indexof(['oil','oil CCS','natural gas','natural gas CCS','coal','coal CCS','biomass','biomass CCS','nuclear','hydro','chp','solar','wind','geothermal','traditional biomass'], datum.fuel)", "as": "rank"}],
      "mark": {"type": "area", "interpolate": "monotone"},
      "encoding": {
        "x": {"field": "year", "type": "quantitative", "scale": {"domain": [1984.5, 2105.5], "nice": false, "zero": false},
              "axis": {"title": null, "labels": false, "ticks": false, "values": [1995, 2010, 2025, 2040, 2055, 2070, 2085, 2100],
                       "gridWidth": {"condition": {"test": "(datum.value - 2010) % 30 === 0", "value": 1.4}, "value": 0.7}}},
        "y": {"field": "EJ", "type": "quantitative", "stack": "zero", "scale": {"domain": [-23.1, 485.1], "nice": false, "zero": false},
              "axis": {"title": "EJ/yr", "titleX": -89, "titleY": 278, "titleAngle": 270, "titleBaseline": "middle", "titleAlign": "center",
                       "values": [0, 50, 100, 150, 200, 250, 300, 350, 400, 450], "format": "d", "labelPadding": 5,
                       "labelExpr": "datum.value % 100 === 0 ? datum.label : ''",
                       "tickOpacity": {"condition": {"test": "datum.value % 100 === 0", "value": 1}, "value": 0},
                       "gridWidth": {"condition": {"test": "datum.value % 100 === 0", "value": 1.4}, "value": 0.7}}},
        "color": {"field": "fuel", "type": "nominal",
                  "scale": {"domain": ["oil","oil CCS","natural gas","natural gas CCS","coal","coal CCS","biomass","biomass CCS","nuclear","hydro","chp","solar","wind","geothermal","traditional biomass"],
                            "range": ["#a6cee3","#1f78b4","#b2df8a","#33a02c","#fb9a99","#e31a1c","#fdbf6f","#ff7f00","#cab2d6","#6a3d9a","#ffff99","#b15928","#8dd3c7","#ffffb3","#bebada"]},
                  "legend": {"title": null, "orient": "none", "legendX": 951, "legendY": 75, "padding": 0, "symbolType": "square", "symbolSize": 870, "symbolStrokeWidth": 0, "labelFontSize": 25, "labelColor": "#000000", "labelOffset": 7, "labelLimit": 400, "rowPadding": 2.2}},
        "order": {"field": "rank", "type": "quantitative", "sort": "descending"}
      }
    },
    {"width": 11, "height": 1, "data": {"values": []}, "mark": {"type": "text"}, "encoding": {"text": {"value": ""}}, "view": {"stroke": null}},
    {
      "width": 438, "height": 272,
      "data": {"name": "core26_elec"},
      "transform": [{"calculate": "indexof(['oil','oil CCS','natural gas','natural gas CCS','coal','coal CCS','biomass','biomass CCS','nuclear','hydro','chp','solar','wind','geothermal','traditional biomass'], datum.fuel)", "as": "rank"}],
      "mark": {"type": "area", "interpolate": "monotone"},
      "encoding": {
        "x": {"field": "year", "type": "quantitative", "scale": {"domain": [1984.5, 2105.5], "nice": false, "zero": false},
              "axis": {"title": null, "labels": false, "ticks": false, "values": [1995, 2010, 2025, 2040, 2055, 2070, 2085, 2100],
                       "gridWidth": {"condition": {"test": "(datum.value - 2010) % 30 === 0", "value": 1.4}, "value": 0.7}}},
        "y": {"field": "EJ", "type": "quantitative", "stack": "zero", "scale": {"domain": [-23.1, 485.1], "nice": false, "zero": false},
              "axis": {"title": null, "labels": false, "ticks": false, "values": [0, 50, 100, 150, 200, 250, 300, 350, 400, 450],
                       "gridWidth": {"condition": {"test": "datum.value % 100 === 0", "value": 1.4}, "value": 0.7}}},
        "color": {"field": "fuel", "type": "nominal",
                  "scale": {"domain": ["oil","oil CCS","natural gas","natural gas CCS","coal","coal CCS","biomass","biomass CCS","nuclear","hydro","chp","solar","wind","geothermal","traditional biomass"],
                            "range": ["#a6cee3","#1f78b4","#b2df8a","#33a02c","#fb9a99","#e31a1c","#fdbf6f","#ff7f00","#cab2d6","#6a3d9a","#ffff99","#b15928","#8dd3c7","#ffffb3","#bebada"]},
                  "legend": {"title": null, "orient": "none", "legendX": 951, "legendY": 75, "padding": 0, "symbolType": "square", "symbolSize": 870, "symbolStrokeWidth": 0, "labelFontSize": 25, "labelColor": "#000000", "labelOffset": 7, "labelLimit": 400, "rowPadding": 2.2}},
        "order": {"field": "rank", "type": "quantitative", "sort": "descending"}
      }
    },
    {"width": 2, "height": 1, "data": {"values": []}, "mark": {"type": "text"}, "encoding": {"text": {"value": ""}}, "view": {"stroke": null}},
    {"width": 31, "height": 272, "data": {"values": [{"label": "Electricity"}]}, "mark": {"type": "text", "fontSize": 15.5, "color": "#1a1a1a", "angle": 90}, "encoding": {"text": {"field": "label"}}, "view": {"fill": "#d9d9d9", "stroke": "#4d4d4d"}},

    {"width": 1, "height": 11, "data": {"values": []}, "mark": {"type": "text"}, "encoding": {"text": {"value": ""}}, "view": {"stroke": null}},
    {"width": 1, "height": 11, "data": {"values": []}, "mark": {"type": "text"}, "encoding": {"text": {"value": ""}}, "view": {"stroke": null}},
    {"width": 1, "height": 11, "data": {"values": []}, "mark": {"type": "text"}, "encoding": {"text": {"value": ""}}, "view": {"stroke": null}},
    {"width": 1, "height": 11, "data": {"values": []}, "mark": {"type": "text"}, "encoding": {"text": {"value": ""}}, "view": {"stroke": null}},
    {"width": 1, "height": 11, "data": {"values": []}, "mark": {"type": "text"}, "encoding": {"text": {"value": ""}}, "view": {"stroke": null}},

    {
      "width": 438, "height": 274,
      "data": {"name": "core_pe"},
      "transform": [{"calculate": "indexof(['oil','oil CCS','natural gas','natural gas CCS','coal','coal CCS','biomass','biomass CCS','nuclear','hydro','chp','solar','wind','geothermal','traditional biomass'], datum.fuel)", "as": "rank"}],
      "mark": {"type": "area", "interpolate": "monotone"},
      "encoding": {
        "x": {"field": "year", "type": "quantitative", "scale": {"domain": [1984.5, 2105.5], "nice": false, "zero": false},
              "axis": {"title": "Year", "titleX": 444, "titleY": 55, "titleBaseline": "alphabetic", "titleAlign": "center",
                       "values": [1995, 2010, 2025, 2040, 2055, 2070, 2085, 2100], "format": "d", "labelPadding": 1,
                       "labelExpr": "(datum.value - 2010) % 30 === 0 ? datum.label : ''",
                       "tickOpacity": {"condition": {"test": "(datum.value - 2010) % 30 === 0", "value": 1}, "value": 0},
                       "gridWidth": {"condition": {"test": "(datum.value - 2010) % 30 === 0", "value": 1.4}, "value": 0.7}}},
        "y": {"field": "EJ", "type": "quantitative", "stack": "zero", "scale": {"domain": [-58.75, 1233.75], "nice": false, "zero": false},
              "axis": {"title": null, "values": [0, 150, 300, 450, 600, 750, 900, 1050, 1200], "format": "d", "labelPadding": 5,
                       "labelExpr": "datum.value % 300 === 0 ? datum.label : ''",
                       "tickOpacity": {"condition": {"test": "datum.value % 300 === 0", "value": 1}, "value": 0},
                       "gridWidth": {"condition": {"test": "datum.value % 300 === 0", "value": 1.4}, "value": 0.7}}},
        "color": {"field": "fuel", "type": "nominal",
                  "scale": {"domain": ["oil","oil CCS","natural gas","natural gas CCS","coal","coal CCS","biomass","biomass CCS","nuclear","hydro","chp","solar","wind","geothermal","traditional biomass"],
                            "range": ["#a6cee3","#1f78b4","#b2df8a","#33a02c","#fb9a99","#e31a1c","#fdbf6f","#ff7f00","#cab2d6","#6a3d9a","#ffff99","#b15928","#8dd3c7","#ffffb3","#bebada"]},
                  "legend": {"title": null, "orient": "none", "legendX": 951, "legendY": 75, "padding": 0, "symbolType": "square", "symbolSize": 870, "symbolStrokeWidth": 0, "labelFontSize": 25, "labelColor": "#000000", "labelOffset": 7, "labelLimit": 400, "rowPadding": 2.2}},
        "order": {"field": "rank", "type": "quantitative", "sort": "descending"}
      }
    },
    {"width": 11, "height": 1, "data": {"values": []}, "mark": {"type": "text"}, "encoding": {"text": {"value": ""}}, "view": {"stroke": null}},
    {
      "width": 438, "height": 274,
      "data": {"name": "core26_pe"},
      "transform": [{"calculate": "indexof(['oil','oil CCS','natural gas','natural gas CCS','coal','coal CCS','biomass','biomass CCS','nuclear','hydro','chp','solar','wind','geothermal','traditional biomass'], datum.fuel)", "as": "rank"}],
      "mark": {"type": "area", "interpolate": "monotone"},
      "encoding": {
        "x": {"field": "year", "type": "quantitative", "scale": {"domain": [1984.5, 2105.5], "nice": false, "zero": false},
              "axis": {"title": null, "values": [1995, 2010, 2025, 2040, 2055, 2070, 2085, 2100], "format": "d", "labelPadding": 1,
                       "labelExpr": "(datum.value - 2010) % 30 === 0 ? datum.label : ''",
                       "tickOpacity": {"condition": {"test": "(datum.value - 2010) % 30 === 0", "value": 1}, "value": 0},
                       "gridWidth": {"condition": {"test": "(datum.value - 2010) % 30 === 0", "value": 1.4}, "value": 0.7}}},
        "y": {"field": "EJ", "type": "quantitative", "stack": "zero", "scale": {"domain": [-58.75, 1233.75], "nice": false, "zero": false},
              "axis": {"title": null, "labels": false, "ticks": false, "values": [0, 150, 300, 450, 600, 750, 900, 1050, 1200],
                       "gridWidth": {"condition": {"test": "datum.value % 300 === 0", "value": 1.4}, "value": 0.7}}},
        "color": {"field": "fuel", "type": "nominal",
                  "scale": {"domain": ["oil","oil CCS","natural gas","natural gas CCS","coal","coal CCS","biomass","biomass CCS","nuclear","hydro","chp","solar","wind","geothermal","traditional biomass"],
                            "range": ["#a6cee3","#1f78b4","#b2df8a","#33a02c","#fb9a99","#e31a1c","#fdbf6f","#ff7f00","#cab2d6","#6a3d9a","#ffff99","#b15928","#8dd3c7","#ffffb3","#bebada"]},
                  "legend": {"title": null, "orient": "none", "legendX": 951, "legendY": 75, "padding": 0, "symbolType": "square", "symbolSize": 870, "symbolStrokeWidth": 0, "labelFontSize": 25, "labelColor": "#000000", "labelOffset": 7, "labelLimit": 400, "rowPadding": 2.2}},
        "order": {"field": "rank", "type": "quantitative", "sort": "descending"}
      }
    },
    {"width": 2, "height": 1, "data": {"values": []}, "mark": {"type": "text"}, "encoding": {"text": {"value": ""}}, "view": {"stroke": null}},
    {"width": 31, "height": 274, "data": {"values": [{"label": "Primary Energy"}]}, "mark": {"type": "text", "fontSize": 15.5, "color": "#1a1a1a", "angle": 90}, "encoding": {"text": {"field": "label"}}, "view": {"fill": "#d9d9d9", "stroke": "#4d4d4d"}}
  ]
}
